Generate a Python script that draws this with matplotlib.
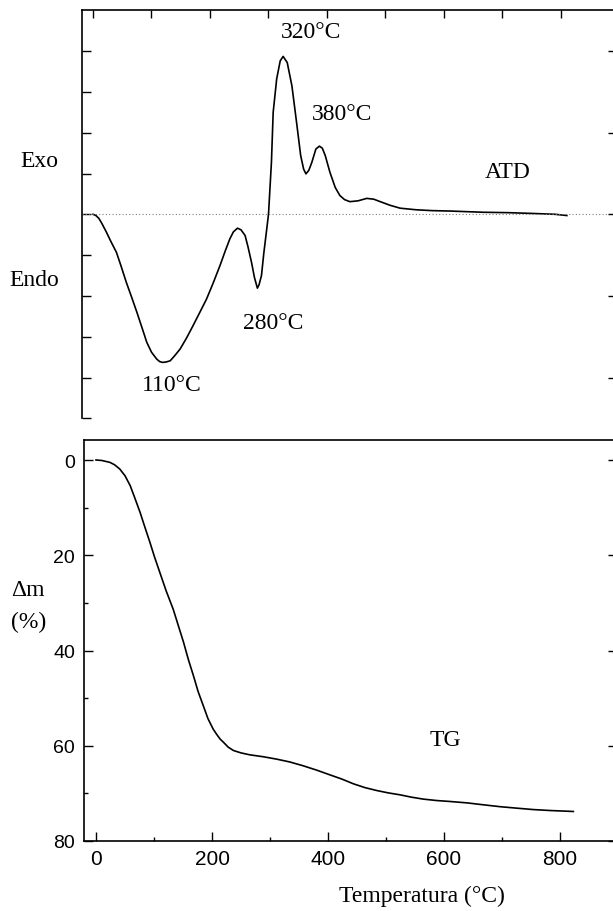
import numpy as np
import matplotlib
matplotlib.use('Agg')
import matplotlib.pyplot as plt
from matplotlib.ticker import MultipleLocator

plt.rcParams['font.family'] = ['Liberation Serif', 'DejaVu Serif']

# ATD (DTA) curve
atd_T = [0, 5, 10, 15, 23, 30, 40, 48, 57, 66, 75, 84, 92, 100, 109, 114, 119, 125,
         132, 140, 149, 160, 171, 182, 194, 205, 217, 226, 234, 240, 247, 253, 260,
         265, 271, 276, 281, 284, 288, 292, 297, 300, 305, 308, 314, 320, 325, 332,
         340, 348, 355, 360, 364, 369, 374, 381, 387, 392, 397, 405, 414, 422, 430,
         439, 453, 468, 480, 491, 508, 525, 553, 580, 610, 667, 710, 753, 790, 810]
atd_v = [0, -0.03, -0.1, -0.22, -0.44, -0.65, -0.93, -1.27, -1.67, -2.03, -2.40,
         -2.79, -3.14, -3.38, -3.55, -3.61, -3.63, -3.62, -3.59, -3.46, -3.30, -3.03,
         -2.73, -2.42, -2.08, -1.70, -1.26, -0.90, -0.60, -0.43, -0.34, -0.38, -0.52,
         -0.80, -1.18, -1.55, -1.81, -1.72, -1.50, -0.95, -0.36, 0.0, 1.27, 2.5, 3.32,
         3.76, 3.87, 3.72, 3.15, 2.25, 1.44, 1.11, 0.99, 1.08, 1.27, 1.6, 1.67, 1.62,
         1.44, 1.03, 0.66, 0.46, 0.36, 0.31, 0.33, 0.39, 0.37, 0.31, 0.22, 0.15, 0.11,
         0.09, 0.08, 0.05, 0.04, 0.02, 0.0, -0.03]

# TG curve
tg_T = [0, 10, 24, 32, 41, 50, 59, 67, 76, 84, 93, 101, 110, 121, 133, 142, 151,
        159, 168, 176, 185, 193, 202, 208, 214, 220, 228, 237, 250, 265, 288, 311,
        334, 357, 380, 403, 424, 444, 464, 484, 504, 524, 544, 564, 587, 610, 640,
        668, 697, 725, 754, 783, 803, 823]
tg_m = [0, 0.1, 0.5, 1.0, 1.9, 3.3, 5.4, 8.0, 11.0, 14.0, 17.3, 20.4, 23.6, 27.5,
        31.3, 34.8, 38.3, 41.8, 45.3, 48.6, 51.6, 54.3, 56.5, 57.6, 58.6, 59.3, 60.3,
        61.0, 61.5, 61.9, 62.3, 62.8, 63.4, 64.2, 65.1, 66.1, 67.0, 68.0, 68.8, 69.4,
        69.9, 70.3, 70.8, 71.2, 71.5, 71.7, 72.0, 72.4, 72.8, 73.1, 73.4, 73.6, 73.7,
        73.8]

# peak labels: (text, T, v)
atd_labels = [('320°C', 373, 4.47), ('380°C', 426, 2.48), ('280°C', 308, -2.64),
              ('110°C', 135, -4.16), ('ATD', 709, 1.06)]

fig = plt.figure(figsize=(6.13, 9.12), dpi=100)

# ---- top panel: ATD
ax1 = fig.add_axes([82/613, 1 - 419.3/912, (617-82)/613, (419.3-11.3)/912])
ax1.plot(atd_T, atd_v, color='black', lw=1.2)
ax1.axhline(0, color='gray', ls=(0, (1, 2)), lw=0.8)
ax1.set_xlim(-18.8, (617-93)/0.585)
ax1.set_ylim(-5, 5)
ax1.spines['bottom'].set_visible(False)
for s in ax1.spines.values():
    s.set_linewidth(1.2)
ax1.xaxis.set_ticks_position('top')
ax1.set_xticks(np.arange(0, 801, 100))
ax1.set_yticks(np.arange(-5, 5, 1))
ax1.tick_params(axis='x', direction='in', length=5.5, width=1, labeltop=False, labelbottom=False)
ax1.tick_params(axis='y', direction='in', length=6.5, width=1, labelleft=False, right=False)
ax1r = ax1.twinx()
ax1r.set_ylim(-5, 5)
ax1r.set_yticks([-4, -2, 0, 2, 4])
ax1r.tick_params(axis='y', direction='in', length=6.5, width=1, labelright=False)
for s in ax1r.spines.values():
    s.set_visible(False)

for txt, tx, ty in atd_labels:
    ax1.text(tx, ty, txt, fontsize=17, ha='center', va='center')
ax1.text(-92, 1.31, 'Exo', fontsize=17, ha='center', va='center')
ax1.text(-101, -1.59, 'Endo', fontsize=17, ha='center', va='center')

# ---- bottom panel: TG
ax2 = fig.add_axes([84/613, 1 - 842/912, (617-84)/613, (842-441)/912])
ax2.plot(tg_T, tg_m, color='black', lw=1.2)
ax2.set_xlim(-20.7, (617-96)/0.58)
ax2.set_ylim(80, -4.2)
for s in ax2.spines.values():
    s.set_linewidth(1.2)
ax2.xaxis.set_major_locator(MultipleLocator(200))
ax2.xaxis.set_minor_locator(MultipleLocator(100))
ax2.yaxis.set_major_locator(MultipleLocator(20))
ax2.yaxis.set_minor_locator(MultipleLocator(10))
ax2.tick_params(axis='both', which='major', direction='in', length=6.5, width=1,
                labelfontfamily='Liberation Sans')
ax2.tick_params(axis='both', which='minor', direction='in', length=3, width=1)
ax2.tick_params(axis='x', which='both', top=False, labelsize=15, pad=6)
ax2.tick_params(axis='y', which='major', right=True, labelsize=14, pad=6.5)
ax2.tick_params(axis='y', which='minor', right=False)

ax2.text(602, 58.6, 'TG', fontsize=17, ha='center', va='center')
ax2.text(562, 91.5, 'Temperatura (°C)', fontsize=17, ha='center', va='center')
ax2.text(-117, 27.1, 'Δm', fontsize=17, ha='center', va='center')
ax2.text(-117, 34.0, '(%)', fontsize=17, ha='center', va='center')

fig.savefig('out.png', dpi=100)
